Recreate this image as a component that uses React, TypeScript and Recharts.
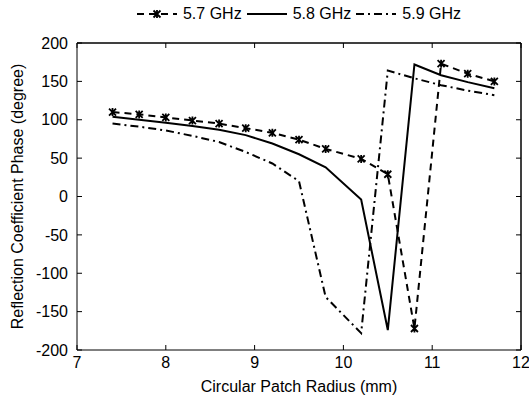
import React from "react";
import { LineChart, Line, XAxis, YAxis, ReferenceLine } from "recharts";

// circular patch radius (mm)
const radius = [7.4, 7.7, 8.0, 8.3, 8.6, 8.9, 9.2, 9.5, 9.8, 10.2, 10.5, 10.8, 11.1, 11.4, 11.7];

// reflection phase (degree) per frequency
const phase57 = [110, 107, 103, 99, 95, 89, 83, 74, 62, 49, 29, -172, 173, 160, 150];
const phase58 = [104, 100, 96, 92, 87, 80, 69, 55, 38, -4, -174, 172, 158, 149, 141];
const phase59 = [95, 91, 86, 79, 71, 58, 43, 20, -131, -178, 164, 154, 145, 138, 132];

const xTicks = [7, 8, 9, 10, 11, 12];
const yTicks = [-200, -150, -100, -50, 0, 50, 100, 150, 200];

const data = radius.map((r, i) => ({
  r,
  f57: phase57[i],
  f58: phase58[i],
  f59: phase59[i],
}));

const FONT = "'Liberation Sans', Arial, sans-serif";
const TICK = 5;
const tickStyle = { fill: "#000", fontSize: 16, fontFamily: FONT };
const hiddenTick = { fill: "none", fontSize: 1 };

const StarDot = (props: any) => {
  const { cx, cy, index } = props;
  if (cx == null || cy == null) return <g key={`d-${index}`} />;
  const s = 3.5;
  return (
    <path
      key={`d-${index}`}
      d={`M${cx - s},${cy - s}L${cx + s},${cy + s}M${cx - s},${cy + s}L${cx + s},${cy - s}M${cx},${cy - s - 0.5}L${cx},${cy + s + 0.5}`}
      stroke="#000"
      strokeWidth={1.8}
      fill="none"
    />
  );
};

const legendItems = [
  { name: "5.7 GHz", dash: "7 5", star: true },
  { name: "5.8 GHz", dash: undefined, star: false },
  { name: "5.9 GHz", dash: "8 4 2 4", star: false },
];

const App: React.FC = () => {
  return (
    <div
      style={{
        position: "absolute",
        left: 0,
        top: 0,
        width: 529,
        height: 400,
        overflow: "hidden",
        background: "#fff",
      }}
    >
      <LineChart width={551} height={400} data={data} margin={{ top: 23, right: 0, bottom: 0, left: 0 }}>
        <XAxis
          dataKey="r"
          type="number"
          domain={[7, 12]}
          ticks={xTicks}
          height={50}
          stroke="#000"
          tickSize={TICK}
          tickMargin={2}
          tickLine={{ transform: `translate(0,${-TICK})` }}
          tick={tickStyle}
          label={{
            value: "Circular Patch Radius (mm)",
            position: "insideBottom",
            offset: 8,
            style: { fill: "#000", fontSize: 16, fontFamily: FONT },
          }}
        />
        <XAxis
          xAxisId="top"
          dataKey="r"
          type="number"
          orientation="top"
          domain={[7, 12]}
          ticks={xTicks}
          height={20}
          stroke="#000"
          tickSize={TICK}
          tickLine={{ transform: `translate(0,${TICK})` }}
          tick={hiddenTick}
        />
        <YAxis
          type="number"
          domain={[-200, 200]}
          ticks={yTicks}
          allowDataOverflow
          width={77}
          stroke="#000"
          tickSize={TICK}
          tickMargin={4}
          tickLine={{ transform: `translate(${TICK},0)` }}
          tick={tickStyle}
          label={{
            value: "Reflection Coefficient Phase (degree)",
            angle: -90,
            position: "insideLeft",
            offset: 17,
            style: { fill: "#000", fontSize: 16, fontFamily: FONT, textAnchor: "middle" },
          }}
        />
        <YAxis
          yAxisId="right"
          orientation="right"
          type="number"
          domain={[-200, 200]}
          ticks={yTicks}
          allowDataOverflow
          width={30}
          stroke="#000"
          tickSize={TICK}
          tickLine={{ transform: `translate(${-TICK},0)` }}
          tick={hiddenTick}
        />
        <ReferenceLine y={200} ifOverflow="visible" stroke="#000" />
        <ReferenceLine x={12} ifOverflow="visible" stroke="#000" />
        <Line
          dataKey="f57"
          name="5.7 GHz"
          stroke="#000"
          strokeWidth={2}
          strokeDasharray="7 5"
          dot={StarDot}
          isAnimationActive={false}
        />
        <Line
          xAxisId="top"
          dataKey="f58"
          name="5.8 GHz"
          stroke="#000"
          strokeWidth={2}
          dot={false}
          isAnimationActive={false}
        />
        <Line
          yAxisId="right"
          dataKey="f59"
          name="5.9 GHz"
          stroke="#000"
          strokeWidth={2}
          strokeDasharray="8 4 2 4"
          dot={false}
          isAnimationActive={false}
        />
      </LineChart>

      <div
        style={{
          position: "absolute",
          left: 77,
          width: 444,
          top: 4,
          display: "flex",
          justifyContent: "center",
          fontFamily: FONT,
          fontSize: 16,
          lineHeight: "20px",
          color: "#000",
        }}
      >
        {legendItems.map((it, i) => (
          <div key={it.name} style={{ display: "flex", alignItems: "center", marginLeft: i ? 5 : 0 }}>
            <svg width={40} height={14}>
              <line x1={0} y1={7} x2={40} y2={7} stroke="#000" strokeWidth={2} strokeDasharray={it.dash} />
              {it.star && <StarDot cx={20} cy={7} index={0} />}
            </svg>
            <span style={{ marginLeft: 6 }}>{it.name}</span>
          </div>
        ))}
      </div>
    </div>
  );
};

export default App;
